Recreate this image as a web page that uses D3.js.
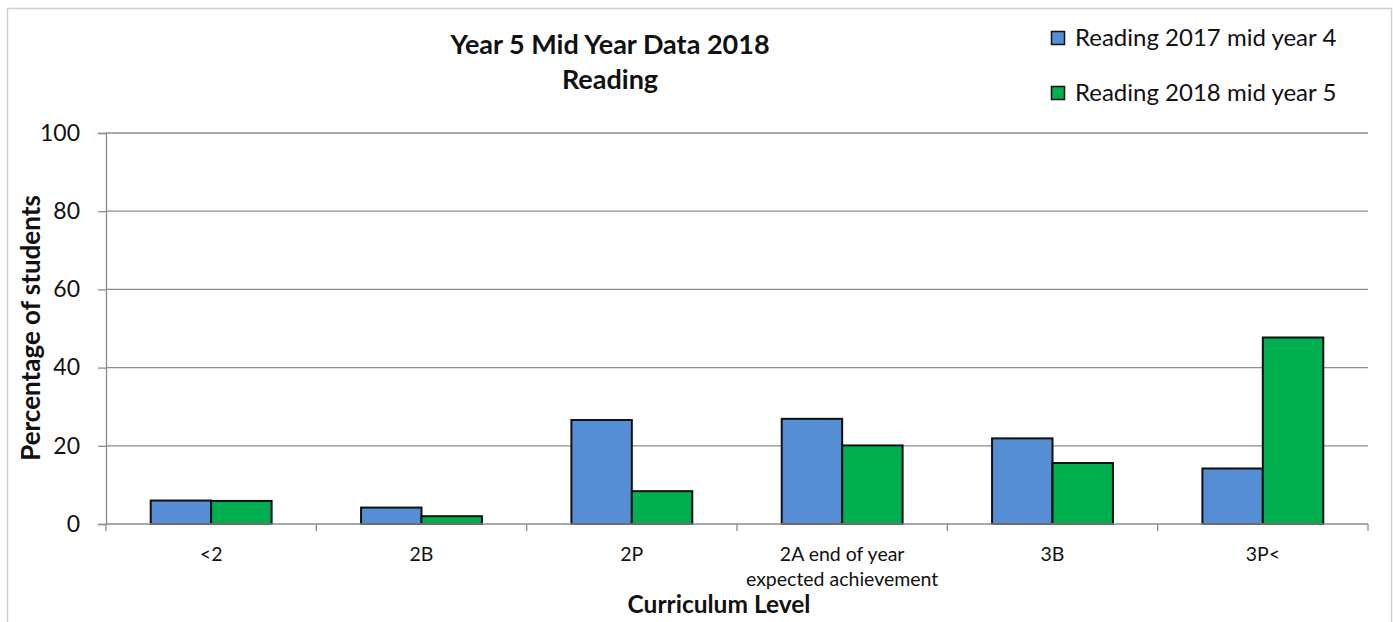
<!DOCTYPE html>
<html>
<head>
<meta charset="utf-8">
<script src="https://cdn.jsdelivr.net/npm/d3@7"></script>
<style>
  body { margin: 0; background: #fff; }
  svg { display: block; font-family: Lato, "Open Sans", sans-serif; }
</style>
</head>
<body>
<div class="chart"></div>
<script>
var categories = ['<2', '2B', '2P', '2A end of year|expected achievement', '3B', '3P<']
var seriesNames = ['Reading 2017 mid year 4', 'Reading 2018 mid year 5']
var reading2017 = [6.0, 4.2, 26.6, 26.9, 21.9, 14.2]
var reading2018 = [5.9, 2.0, 8.4, 20.1, 15.6, 47.7]
var yTicks = [0, 20, 40, 60, 80, 100]
var colors = ['#558ED5', '#00B050']

var width = 1393
var height = 622
var margin = { left: 106, right: 25, top: 133, bottom: 98 }

var svg = d3.select('.chart')
  .append('svg')
  .attr('width', width)
  .attr('height', height)

// chart frame
svg.append('rect')
  .attr('x', 7.5)
  .attr('y', 8.5)
  .attr('width', 1384)
  .attr('height', 640)
  .attr('fill', 'none')
  .attr('stroke', '#d0d0d0')
  .attr('stroke-width', 1.5)

var x0 = d3.scaleBand()
  .domain(categories)
  .range([margin.left, width - margin.right])

var x1 = d3.scaleBand()
  .domain(d3.range(seriesNames.length))
  .range([0, x0.bandwidth()])
  .paddingInner(0)
  .paddingOuter(0.74)

var y = d3.scaleLinear()
  .domain([0, 100])
  .range([height - margin.bottom, margin.top])

// gridlines
svg.append('g')
  .selectAll('line')
  .data(yTicks.filter(function (d) { return d > 0 }))
  .enter()
  .append('line')
  .attr('x1', margin.left)
  .attr('x2', width - margin.right)
  .attr('y1', function (d) { return y(d) })
  .attr('y2', function (d) { return y(d) })
  .attr('stroke', '#8c8c8c')
  .attr('stroke-width', 1.3)

// y axis
var yAxis = svg.append('g')
  .attr('transform', 'translate(' + margin.left + ',0)')
  .call(d3.axisLeft(y).tickValues(yTicks).tickSize(8).tickPadding(18))
yAxis.select('.domain').attr('stroke', '#8c8c8c').attr('stroke-width', 1.3)
yAxis.selectAll('.tick line').attr('stroke', '#8c8c8c').attr('stroke-width', 1.3)
yAxis.selectAll('.tick text')
  .attr('font-family', 'Lato, sans-serif')
  .attr('font-size', '23px')
  .attr('fill', '#111')

// bars
var rows = categories.map(function (c, i) {
  return { cat: c, values: [reading2017[i], reading2018[i]] }
})

var groups = svg.append('g')
  .selectAll('g')
  .data(rows)
  .enter()
  .append('g')
  .attr('transform', function (d) { return 'translate(' + x0(d.cat) + ',0)' })

groups.selectAll('rect')
  .data(function (d) { return d.values })
  .enter()
  .append('rect')
  .attr('x', function (d, i) { return x1(i) })
  .attr('y', function (d) { return y(d) })
  .attr('width', x1.bandwidth())
  .attr('height', function (d) { return y(0) - y(d) })
  .attr('fill', function (d, i) { return colors[i] })
  .attr('stroke', '#111')
  .attr('stroke-width', 2)

// x axis line and boundary ticks
svg.append('line')
  .attr('x1', margin.left)
  .attr('x2', width - margin.right)
  .attr('y1', y(0))
  .attr('y2', y(0))
  .attr('stroke', '#8c8c8c')
  .attr('stroke-width', 1.3)

var boundaries = categories.map(function (c) { return x0(c) })
boundaries.push(x0(categories[categories.length - 1]) + x0.bandwidth())
svg.append('g')
  .selectAll('line')
  .data(boundaries)
  .enter()
  .append('line')
  .attr('x1', function (d) { return d })
  .attr('x2', function (d) { return d })
  .attr('y1', y(0))
  .attr('y2', y(0) + 7)
  .attr('stroke', '#8c8c8c')
  .attr('stroke-width', 1.3)

// category labels
var labels = svg.append('g')
  .selectAll('text')
  .data(categories)
  .enter()
  .append('text')
  .attr('x', function (d) { return x0(d) + x0.bandwidth() / 2 })
  .attr('y', 561)
  .attr('text-anchor', 'middle')
  .attr('font-size', '19.5px')
  .attr('fill', '#111')

labels.selectAll('tspan')
  .data(function (d) { return d.split('|') })
  .enter()
  .append('tspan')
  .attr('x', function () { return d3.select(this.parentNode).attr('x') })
  .attr('dy', function (d, i) { return i === 0 ? 0 : 25 })
  .text(function (d) { return d })

// title
svg.append('text')
  .attr('x', 610)
  .attr('y', 54)
  .attr('text-anchor', 'middle')
  .attr('font-weight', 'bold')
  .attr('font-size', '27px')
  .attr('fill', '#111')
  .text('Year 5 Mid Year Data 2018')

svg.append('text')
  .attr('x', 610)
  .attr('y', 89)
  .attr('text-anchor', 'middle')
  .attr('font-weight', 'bold')
  .attr('font-size', '27px')
  .attr('fill', '#111')
  .text('Reading')

// axis titles
svg.append('text')
  .attr('transform', 'translate(40,328) rotate(-90)')
  .attr('text-anchor', 'middle')
  .attr('font-weight', 'bold')
  .attr('font-size', '26px')
  .attr('fill', '#111')
  .text('Percentage of students')

svg.append('text')
  .attr('x', 719)
  .attr('y', 613)
  .attr('text-anchor', 'middle')
  .attr('font-weight', 'bold')
  .attr('font-size', '24.5px')
  .attr('fill', '#111')
  .text('Curriculum Level')

// legend
var legend = svg.append('g')
  .selectAll('g')
  .data(seriesNames)
  .enter()
  .append('g')
  .attr('transform', function (d, i) { return 'translate(1051,' + (38 + i * 55) + ')' })

legend.append('rect')
  .attr('x', 0.5)
  .attr('y', -6.5)
  .attr('width', 13)
  .attr('height', 13)
  .attr('fill', function (d, i) { return colors[i] })
  .attr('stroke', '#111')
  .attr('stroke-width', 1.5)

legend.append('text')
  .attr('x', 24)
  .attr('y', 0)
  .attr('dy', '0.35em')
  .attr('font-size', '24px')
  .attr('fill', '#111')
  .text(function (d) { return d })
</script>
</body>
</html>
